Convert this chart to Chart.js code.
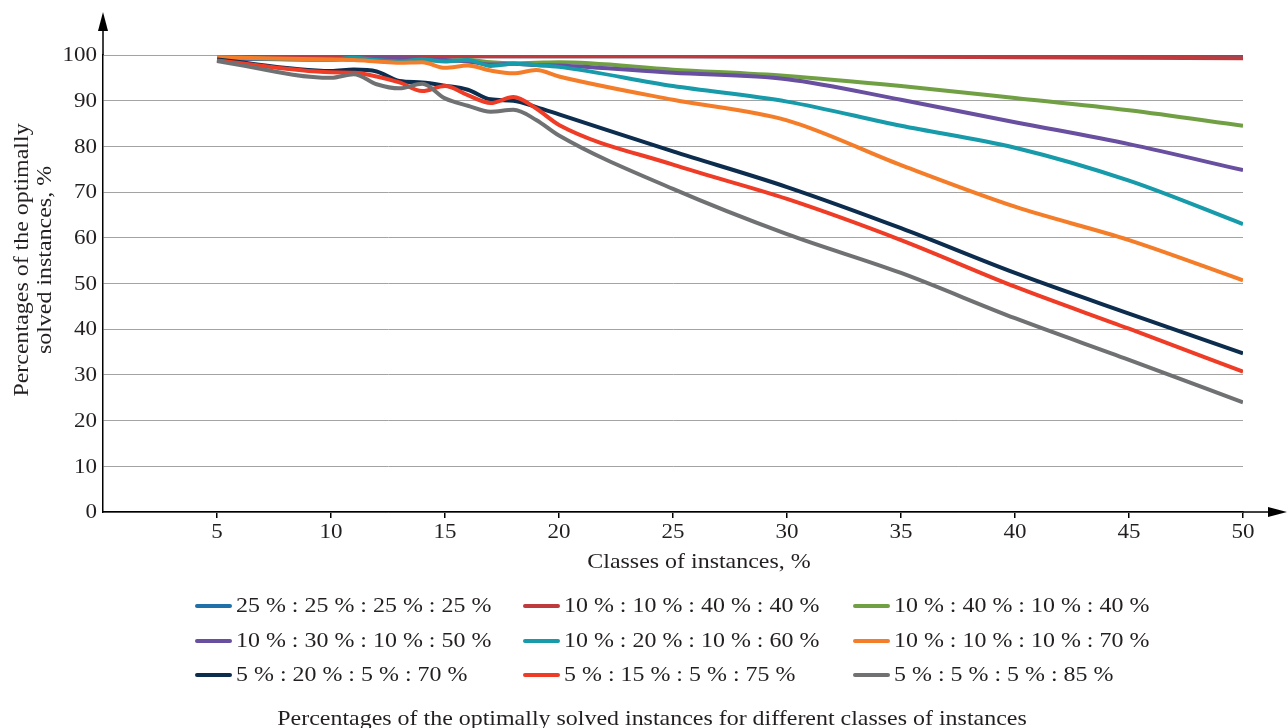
<!DOCTYPE html>
<html>
<head>
<meta charset="utf-8">
<script src="https://cdn.jsdelivr.net/npm/chart.js@4.4.1/dist/chart.umd.min.js"></script>
<style>
  body { margin: 0; background: #fff; }
  #chart { display: block; }
</style>
</head>
<body>
<canvas id="chart" width="1288" height="728"></canvas>
<script>
// classes of instances, %
const classes = [5, 10, 11, 12, 13, 14, 15, 16, 17, 18, 19, 20, 25, 30, 35, 40, 45, 50];

// percentages of optimally solved instances, one array per class mix
const s25_25_25_25 = [99.6, 99.8, 99.8, 99.8, 99.7, 99.7, 99.7, 99.7, 99.7, 99.7, 99.7, 99.7, 99.7, 99.7, 99.7, 99.7, 99.7, 99.6];
const s10_10_40_40 = [99.7, 99.8, 99.8, 99.7, 99.7, 99.7, 99.7, 99.7, 99.7, 99.7, 99.7, 99.7, 99.7, 99.6, 99.6, 99.5, 99.4, 99.3];
const s10_40_10_40 = [99.3, 99.0, 99.2, 99.0, 99.0, 98.9, 98.8, 98.9, 98.4, 98.2, 98.3, 98.4, 96.8, 95.4, 93.2, 90.6, 87.9, 84.5];
const s10_30_10_50 = [99.2, 99.0, 99.2, 99.3, 99.3, 99.2, 98.9, 98.6, 97.9, 98.1, 97.8, 97.7, 96.1, 94.7, 90.2, 85.3, 80.5, 74.8];
const s10_20_10_60 = [99.4, 99.0, 99.4, 98.9, 98.6, 99.0, 98.6, 98.9, 97.6, 98.1, 97.8, 97.4, 93.2, 89.8, 84.5, 79.7, 72.5, 63.0];
const s10_10_10_70 = [99.5, 99.0, 98.9, 98.6, 98.3, 98.4, 97.2, 97.7, 96.6, 96.0, 96.7, 95.3, 90.2, 85.7, 75.9, 66.8, 59.5, 50.7];
const s5_20_5_70 = [99.0, 96.5, 96.8, 96.4, 94.3, 94.0, 93.3, 92.4, 90.3, 90.0, 88.6, 87.0, 78.9, 71.1, 62.1, 52.3, 43.4, 34.7];
const s5_15_5_75 = [98.8, 96.2, 96.1, 95.3, 94.0, 92.1, 93.2, 91.2, 89.5, 90.8, 88.3, 84.7, 76.0, 68.5, 59.5, 49.3, 40.1, 30.7];
const s5_5_5_85 = [98.7, 95.0, 95.8, 93.6, 92.7, 93.7, 90.5, 88.9, 87.6, 88.0, 85.8, 82.4, 70.7, 60.8, 52.3, 42.4, 33.3, 24.0];

const seriesNames = [
  '25 % : 25 % : 25 % : 25 %', '10 % : 10 % : 40 % : 40 %', '10 % : 40 % : 10 % : 40 %',
  '10 % : 30 % : 10 % : 50 %', '10 % : 20 % : 10 % : 60 %', '10 % : 10 % : 10 % : 70 %',
  '5 % : 20 % : 5 % : 70 %', '5 % : 15 % : 5 % : 75 %', '5 % : 5 % : 5 % : 85 %'
];
const seriesValues = [s25_25_25_25, s10_10_40_40, s10_40_10_40, s10_30_10_50, s10_20_10_60,
  s10_10_10_70, s5_20_5_70, s5_15_5_75, s5_5_5_85];
const seriesColors = ['#2071a9', '#bf3a3c', '#71a044', '#684f9f', '#179aa9', '#f47d2a', '#0d2d4e', '#ee3c27', '#6f7173'];

const yTitle = ['Percentages of the optimally', 'solved instances, %'];
const xTitle = 'Classes of instances, %';
const caption = 'Percentages of the optimally solved instances for different classes of instances';

const FONT = '"Liberation Serif", "Times New Roman", serif';
const TEXT_COLOR = '#231f20';

// the figure's type is a bit wider than plain Times, so stretch it sideways
function wideText(ctx, text, x, y, align, size, stretch) {
  ctx.save();
  ctx.translate(x, y);
  ctx.scale(stretch, 1);
  ctx.font = size + 'px ' + FONT;
  ctx.textAlign = align;
  ctx.textBaseline = 'middle';
  ctx.fillText(text, 0, 0);
  ctx.restore();
}

// tick labels, arrows, axis titles, legend grid and caption
const decorations = {
  id: 'decorations',
  afterDraw(chart) {
    const ctx = chart.ctx;
    const a = chart.chartArea;
    const xs = chart.scales.x;
    const ys = chart.scales.y;
    ctx.save();
    ctx.strokeStyle = '#000';
    ctx.fillStyle = '#000';
    ctx.lineWidth = 1.5;
    // y axis arrow
    ctx.beginPath();
    ctx.moveTo(a.left, a.top);
    ctx.lineTo(a.left, 28);
    ctx.stroke();
    ctx.beginPath();
    ctx.moveTo(a.left, 12);
    ctx.lineTo(a.left - 5, 31);
    ctx.lineTo(a.left + 5, 31);
    ctx.closePath();
    ctx.fill();
    // x axis arrow
    ctx.beginPath();
    ctx.moveTo(a.right, a.bottom);
    ctx.lineTo(1272, a.bottom);
    ctx.stroke();
    ctx.beginPath();
    ctx.moveTo(1287, a.bottom);
    ctx.lineTo(1268, a.bottom - 5);
    ctx.lineTo(1268, a.bottom + 5);
    ctx.closePath();
    ctx.fill();

    ctx.fillStyle = TEXT_COLOR;
    xs.ticks.forEach(t => {
      wideText(ctx, String(t.value), xs.getPixelForValue(t.value), a.bottom + 21, 'center', 20, 1.15);
    });
    ys.ticks.forEach(t => {
      wideText(ctx, String(t.value), a.left - 6, ys.getPixelForValue(t.value) + 1, 'right', 20, 1.15);
    });

    wideText(ctx, xTitle, 699, 562, 'center', 21, 1.14);

    ctx.save();
    ctx.translate(22, 260);
    ctx.rotate(-Math.PI / 2);
    wideText(ctx, yTitle[0], 0, 0, 'center', 21, 1.14);
    wideText(ctx, yTitle[1], 0, 23, 'center', 21, 1.14);
    ctx.restore();

    // legend, 3 x 3
    const colX = [197, 525, 855];
    const rowY = [606, 641, 675];
    chart.data.datasets.forEach((ds, i) => {
      const x = colX[i % 3];
      const y = rowY[Math.floor(i / 3)];
      ctx.strokeStyle = ds.borderColor;
      ctx.lineWidth = 4;
      ctx.lineCap = 'round';
      ctx.beginPath();
      ctx.moveTo(x, y);
      ctx.lineTo(x + 33, y);
      ctx.stroke();
      wideText(ctx, ds.label, x + 39, y, 'left', 21, 1.14);
    });

    wideText(ctx, caption, 652, 719, 'center', 21, 1.14);
    ctx.restore();
  }
};

function buildDatasets() {
  return seriesNames.map((name, i) => ({
    label: name,
    data: classes.map((c, j) => ({ x: c, y: seriesValues[i][j] })),
    borderColor: seriesColors[i],
    backgroundColor: seriesColors[i],
    borderWidth: 4,
    pointRadius: 0,
    fill: false,
    cubicInterpolationMode: 'monotone',
    order: seriesNames.length - i
  }));
}

const ctx = document.getElementById('chart').getContext('2d');
new Chart(ctx, {
  type: 'line',
  data: { datasets: buildDatasets() },
  options: {
    responsive: false,
    animation: false,
    layout: { padding: { left: 0, top: 55, right: 45, bottom: 186 } },
    plugins: {
      legend: { display: false },
      tooltip: { enabled: false }
    },
    scales: {
      x: {
        type: 'linear',
        min: 0,
        max: 50,
        afterBuildTicks(scale) {
          scale.ticks = scale.ticks.filter(t => t.value > 0);
        },
        afterFit(scale) { scale.height = 30; },
        ticks: { display: false, stepSize: 5 },
        grid: { drawOnChartArea: false, drawTicks: true, tickLength: 6, color: '#000', lineWidth: 1.5 },
        border: { color: '#000', width: 1.5 }
      },
      y: {
        min: 0,
        max: 100,
        afterFit(scale) { scale.width = 103; },
        ticks: { display: false, stepSize: 10 },
        grid: { color: '#a3a3a3', lineWidth: 1, drawTicks: false },
        border: { color: '#000', width: 1.5 }
      }
    }
  },
  plugins: [decorations]
});
</script>
</body>
</html>
